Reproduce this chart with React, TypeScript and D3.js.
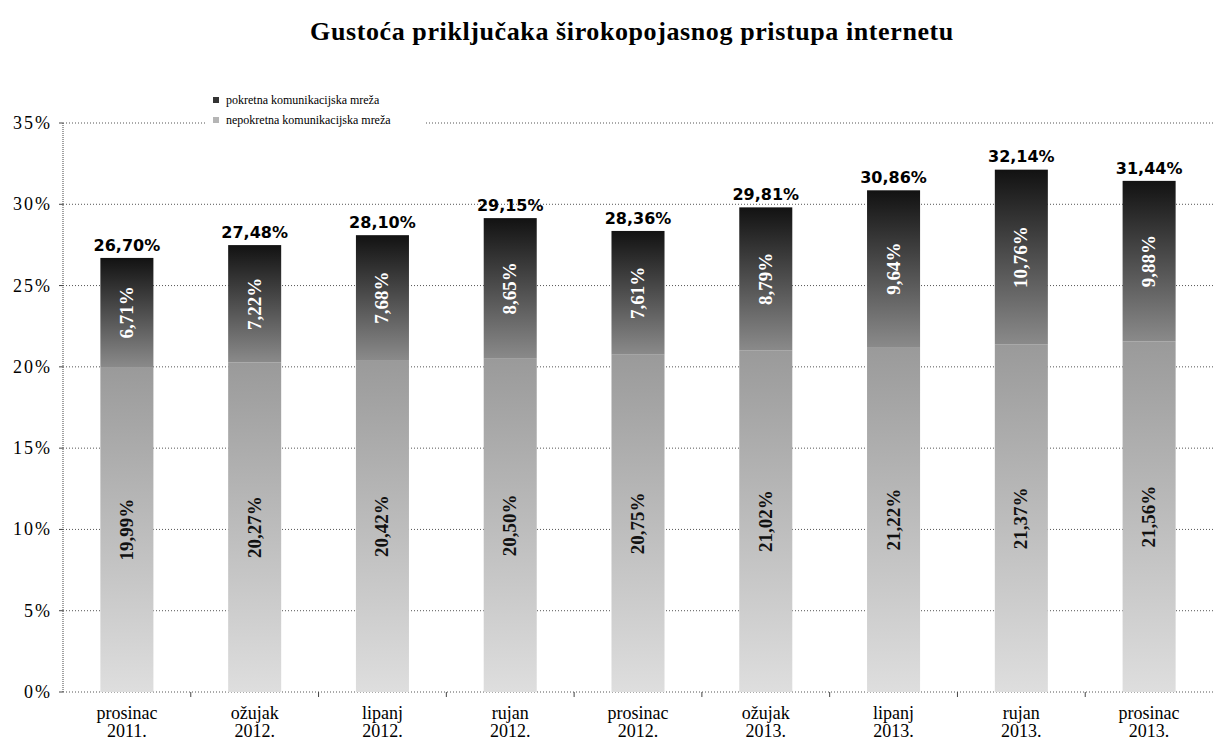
import React from "react";
import * as d3 from "d3";

const categories = [
  ["prosinac", "2011."],
  ["ožujak", "2012."],
  ["lipanj", "2012."],
  ["rujan", "2012."],
  ["prosinac", "2012."],
  ["ožujak", "2013."],
  ["lipanj", "2013."],
  ["rujan", "2013."],
  ["prosinac", "2013."],
];
const fixedValues = [19.99, 20.27, 20.42, 20.5, 20.75, 21.02, 21.22, 21.37, 21.56];
const mobileValues = [6.71, 7.22, 7.68, 8.65, 7.61, 8.79, 9.64, 10.76, 9.88];
const totalValues = [26.7, 27.48, 28.1, 29.15, 28.36, 29.81, 30.86, 32.14, 31.44];
const yTicks = [0, 5, 10, 15, 20, 25, 30, 35];
const seriesNames = ["pokretna komunikacijska mreža", "nepokretna komunikacijska mreža"];
const title = "Gustoća priključaka širokopojasnog pristupa internetu";

const W = 1213;
const H = 740;
const left = 63;
const right = 1213;
const top = 123;
const bottom = 692;

const fmt = (v: number) => v.toFixed(2).replace(".", ",") + "%";
const serif = "'Liberation Serif', 'Times New Roman', serif";
const sans = "'DejaVu Sans', Verdana, sans-serif";

export default function App() {
  const x = d3
    .scaleBand<number>()
    .domain(categories.map((_, i) => i))
    .range([left, right])
    .paddingInner(0.585)
    .paddingOuter(0.2925);
  const step = x.step();
  const y = d3.scaleLinear().domain([0, 35]).range([bottom, top]);
  const bw = x.bandwidth();

  return (
    <svg width={W} height={H} style={{ position: "absolute", left: 0, top: 0, background: "#fff" }}>
      <defs>
        <linearGradient id="gTop" x1="0" y1="0" x2="0" y2="1">
          <stop offset="0%" stopColor="#121212" />
          <stop offset="100%" stopColor="#8a8a8a" />
        </linearGradient>
        <linearGradient id="gBot" x1="0" y1="0" x2="0" y2="1">
          <stop offset="0%" stopColor="#9a9a9a" />
          <stop offset="100%" stopColor="#dedede" />
        </linearGradient>
      </defs>
      <text x={632} y={40} textAnchor="middle" fontFamily={serif} fontWeight="bold" fontSize={26} letterSpacing={0.6} fill="#000">
        {title}
      </text>

      {/* gridlines */}
      {yTicks.map((t) => (
        <g key={t}>
          <line x1={left} x2={right} y1={y(t)} y2={y(t)} stroke="#555" strokeWidth={1} strokeDasharray="1,2" />
          <line x1={left - 4} x2={left} y1={y(t)} y2={y(t)} stroke="#444" strokeWidth={1} />
          <text x={52} y={y(t) + 6} textAnchor="end" fontFamily={serif} fontSize={18} letterSpacing={2} fill="#000">
            {t}%
          </text>
        </g>
      ))}
      <line x1={left} x2={left} y1={top} y2={bottom} stroke="#444" strokeWidth={1} strokeDasharray="1,1" />
      {categories.map((_, i) =>
        i > 0 ? (
          <line key={i} x1={left + step * i} x2={left + step * i} y1={bottom} y2={bottom + 5} stroke="#444" strokeWidth={1} />
        ) : null
      )}

      {/* legend */}
      <rect x={206} y={90} width={218} height={42} fill="#fff" />
      <rect x={213} y={97} width={6} height={6} fill="#333" />
      <text x={226} y={104} fontFamily={serif} fontSize={12} fill="#000">{seriesNames[0]}</text>
      <rect x={213} y={117} width={6} height={6} fill="#b5b5b5" />
      <text x={226} y={124} fontFamily={serif} fontSize={12} fill="#000">{seriesNames[1]}</text>

      {/* bars */}
      {categories.map((c, i) => {
        const bx = x(i)!;
        const cx = bx + bw / 2;
        const f = fixedValues[i];
        const m = mobileValues[i];
        const yF = y(f);
        const yT = y(f + m);
        const midLow = (bottom + yF) / 2;
        const midUp = (yF + yT) / 2;
        return (
          <g key={i}>
            <rect x={bx} y={yF} width={bw} height={bottom - yF} fill="url(#gBot)" />
            <rect x={bx} y={yT} width={bw} height={yF - yT} fill="url(#gTop)" />
            <text
              transform={`translate(${cx + 6},${midLow}) rotate(-90)`}
              textAnchor="middle"
              fontFamily={serif}
              fontWeight="bold"
              fontSize={19}
              fill="#111"
            >
              {fmt(f)}
            </text>
            <text
              transform={`translate(${cx + 6},${midUp}) rotate(-90)`}
              textAnchor="middle"
              fontFamily={serif}
              fontWeight="bold"
              fontSize={19}
              fill="#fff"
            >
              {fmt(m)}
            </text>
            <text x={cx} y={y(totalValues[i]) - 7} textAnchor="middle" fontFamily={sans} fontWeight="bold" fontSize={16} fill="#000">
              {fmt(totalValues[i])}
            </text>
            <text x={cx} y={719} textAnchor="middle" fontFamily={serif} fontSize={18} fill="#000">{c[0]}</text>
            <text x={cx} y={737} textAnchor="middle" fontFamily={serif} fontSize={18} fill="#000">{c[1]}</text>
          </g>
        );
      })}
    </svg>
  );
}
